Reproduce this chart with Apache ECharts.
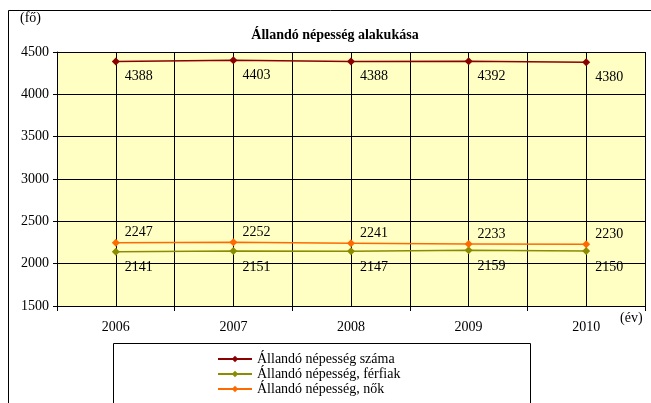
<!DOCTYPE html>
<html>
<head>
<meta charset="utf-8">
<script src="https://cdn.jsdelivr.net/npm/echarts@6.0.0/dist/echarts.min.js"></script>
<style>
  html, body { margin: 0; padding: 0; background: #fff; }
  #chart { width: 651px; height: 403px; }
</style>
</head>
<body>
<div id="chart"></div>
<script>
const years = ["2006", "2007", "2008", "2009", "2010"];
const osszes = [4388, 4403, 4388, 4392, 4380];
const ferfiak = [2141, 2151, 2147, 2159, 2150];
const nok = [2247, 2252, 2241, 2233, 2230];

const serif = "Liberation Serif";

const chart = echarts.init(document.getElementById("chart"));

const makeSeries = (name, data, color, dy) => ({
  name,
  type: "line",
  data,
  symbol: "diamond",
  symbolSize: 8,
  lineStyle: { color, width: 1.5 },
  itemStyle: { color },
  label: {
    show: true,
    position: "right",
    distance: 5,
    offset: [0, dy],
    color: "#000",
    fontFamily: serif,
    fontSize: 14,
  },
});

chart.setOption({
  animation: false,
  textStyle: { fontFamily: serif },
  title: {
    text: "Állandó népesség alakukása",
    left: 330,
    textAlign: "center",
    top: 23,
    textStyle: { fontFamily: serif, fontSize: 14, fontWeight: "bold", color: "#000" },
  },
  graphic: [
    {
      type: "rect",
      shape: { x: 8.5, y: 10.5, width: 660, height: 420 },
      style: { fill: null, stroke: "#000", lineWidth: 1 },
      silent: true,
    },
    {
      type: "rect",
      shape: { x: 113.5, y: 343.5, width: 417, height: 70 },
      style: { fill: null, stroke: "#000", lineWidth: 1 },
      silent: true,
    },
    {
      type: "text",
      left: 20,
      top: 11,
      style: { text: "(fő)", font: "14px " + serif, fill: "#000" },
    },
    {
      type: "text",
      left: 620,
      top: 311,
      style: { text: "(év)", font: "14px " + serif, fill: "#000" },
    },
  ],
  legend: {
    orient: "vertical",
    left: 212,
    top: 347,
    itemGap: 1,
    itemWidth: 34,
    itemHeight: 8,
    textStyle: { fontFamily: serif, fontSize: 14, color: "#000" },
    data: ["Állandó népesség száma", "Állandó népesség, férfiak", "Állandó népesség, nők"],
  },
  grid: {
    left: 57,
    right: 6,
    top: 52,
    bottom: 97,
    show: true,
    backgroundColor: "#FFFFC4",
    borderWidth: 0,
  },
  xAxis: [
    {
      type: "category",
      data: years,
      boundaryGap: true,
      axisLine: { lineStyle: { color: "#000" } },
      axisTick: { show: true, length: 5, lineStyle: { color: "#000" } },
      axisLabel: { color: "#000", fontSize: 14, fontFamily: serif, margin: 14 },
      splitLine: { show: true, interval: 0, lineStyle: { color: "#000", width: 1 } },
    },
    {
      type: "value",
      min: 0,
      max: 10,
      interval: 1,
      position: "bottom",
      axisLine: { show: false },
      axisTick: { show: false },
      axisLabel: { show: false },
      splitLine: { show: true, lineStyle: { color: "#000", width: 1 } },
    },
  ],
  yAxis: {
    type: "value",
    min: 1500,
    max: 4500,
    interval: 500,
    axisLine: { show: true, lineStyle: { color: "#000" } },
    axisTick: { show: true, length: 4, lineStyle: { color: "#000" } },
    axisLabel: {
      color: "#000",
      fontSize: 14,
      fontFamily: serif,
      margin: 8,
      formatter: (v) => String(v),
    },
    splitLine: { show: true, lineStyle: { color: "#000", width: 1 } },
  },
  series: [
    makeSeries("Állandó népesség száma", osszes, "#8B0000", 15),
    makeSeries("Állandó népesség, férfiak", ferfiak, "#8C8C00", 16),
    makeSeries("Állandó népesség, nők", nok, "#FF6A00", -10),
  ],
});
</script>
</body>
</html>
